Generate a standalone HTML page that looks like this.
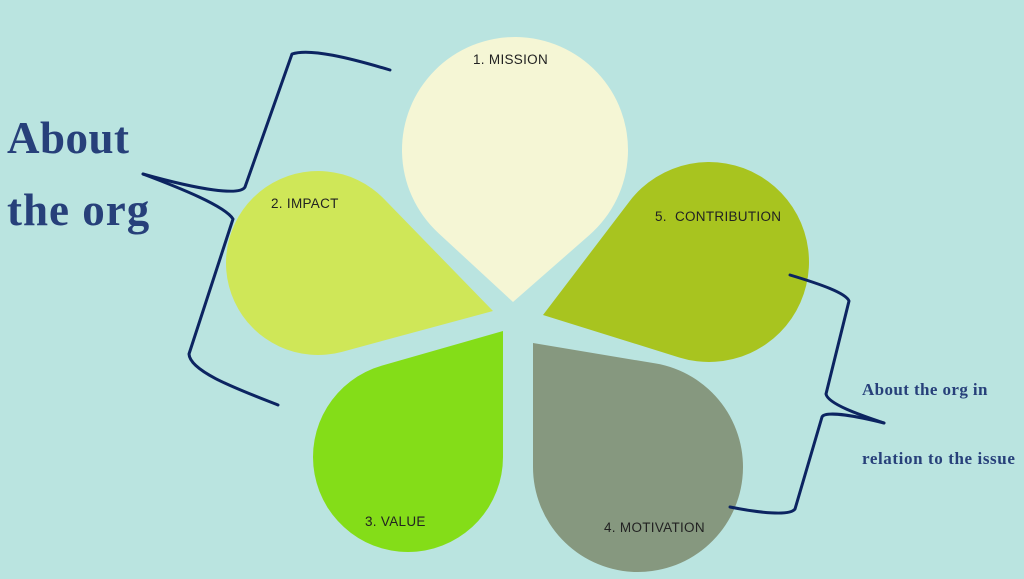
<!DOCTYPE html>
<html><head><meta charset="utf-8"><style>
html,body{margin:0;padding:0;background:#bae4e0;}
svg{display:block}
</style></head><body>
<svg id="s" width="1024" height="579" viewBox="0 0 1024 579" xmlns="http://www.w3.org/2000/svg">
<rect width="1024" height="579" fill="#bae4e0"/>
<g id="petals"></g>
<g fill="none" stroke="#0c2461" stroke-width="3" stroke-linecap="round" stroke-linejoin="round">
<path d="M390,70 C350,58 310,48 292,54 L245,187 C240,196 200,190 143,174"/>
<path d="M143,174 C180,188 225,206 233,219 L189,354 C190,372 240,390 278,405"/>
<path d="M790,275 C820,284 846,293 849,301 L826,394 C828,404 860,415 884,423"/>
<path d="M884,423 C860,417 825,410 822,417 L795,509 C790,516 760,513 730,507"/>
</g>
<g font-family="'Liberation Sans',sans-serif" font-size="13.5" fill="#222" letter-spacing="0.3">
<text x="473" y="64">1. MISSION</text>
<text x="271" y="208">2. IMPACT</text>
<text x="655" y="221" xml:space="preserve">5.  CONTRIBUTION</text>
<text x="365" y="526">3. VALUE</text>
<text x="604" y="532">4. MOTIVATION</text>
</g>
<g font-family="'Liberation Serif',serif" font-weight="bold" fill="#27407a">
<text x="7" y="153" font-size="45" letter-spacing="0.5">About</text>
<text x="7" y="225" font-size="45" letter-spacing="1">the org</text>
<text x="862" y="395" font-size="17" letter-spacing="0.4">About the org in</text>
<text x="862" y="464" font-size="17" letter-spacing="0.6">relation to the issue</text>
</g>
</svg>
<script>
function tear(cx,cy,r,px,py,fill){
 var dx=px-cx,dy=py-cy,d=Math.hypot(dx,dy),phi=Math.atan2(dy,dx),th=Math.acos(r/d);
 var a1=phi+th,a2=phi-th;
 var x1=cx+r*Math.cos(a1),y1=cy+r*Math.sin(a1),x2=cx+r*Math.cos(a2),y2=cy+r*Math.sin(a2);
 var p=document.createElementNS("http://www.w3.org/2000/svg","path");
 p.setAttribute("d","M"+px+","+py+" L"+x1+","+y1+" A"+r+","+r+" 0 1 1 "+x2+","+y2+" Z");
 p.setAttribute("fill",fill);
 document.getElementById("petals").appendChild(p);
}
tear(515,150,113,513,302,"#f5f6d5");
tear(318,263,92,493,311,"#cfe758");
tear(408,457,95,503,331,"#84dd18");
tear(638,467,105,533,343,"#86987f");
tear(709,262,100,543,315,"#a8c41f");
</script>
</body></html>
